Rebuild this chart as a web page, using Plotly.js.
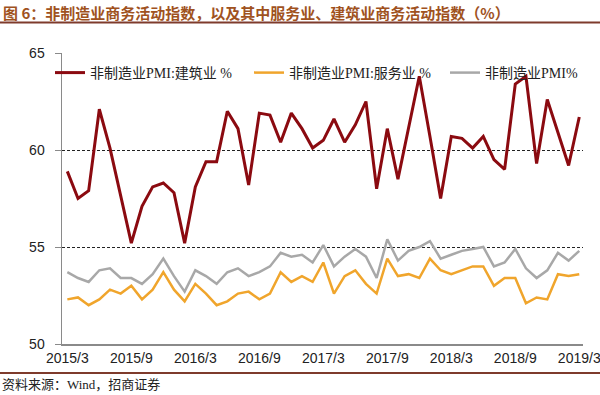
<!DOCTYPE html>
<html>
<head>
<meta charset="utf-8">
<script src="https://cdn.plot.ly/plotly-3.0.1.min.js"></script>
<style>html,body{margin:0;padding:0;background:#fff;}#chart{width:600px;height:395px;}</style>
</head>
<body>
<div id="chart"></div>
<script>
const months = ["2015/3","2015/4","2015/5","2015/6","2015/7","2015/8","2015/9","2015/10","2015/11","2015/12",
"2016/1","2016/2","2016/3","2016/4","2016/5","2016/6","2016/7","2016/8","2016/9","2016/10","2016/11","2016/12",
"2017/1","2017/2","2017/3","2017/4","2017/5","2017/6","2017/7","2017/8","2017/9","2017/10","2017/11","2017/12",
"2018/1","2018/2","2018/3","2018/4","2018/5","2018/6","2018/7","2018/8","2018/9","2018/10","2018/11","2018/12",
"2019/1","2019/2","2019/3"];
const construction = [58.9,57.5,57.9,62.1,60.1,57.6,55.2,57.1,58.1,58.3,
57.8,55.2,58.1,59.4,59.4,62.0,61.1,58.2,61.9,61.8,60.4,61.9,
61.1,60.1,60.5,61.6,60.4,61.3,62.5,58.0,61.1,58.5,61.2,63.8,
60.7,57.5,60.7,60.6,60.1,60.7,59.5,59.0,63.4,63.8,59.3,62.6,
60.9,59.2,61.7];
const services = [52.3,52.4,52.0,52.3,52.8,52.6,53.0,52.3,52.8,53.7,
52.8,52.2,53.1,52.6,52.0,52.2,52.6,52.7,52.3,52.6,53.7,53.2,
53.5,53.2,54.2,52.6,53.5,53.8,53.1,52.6,54.4,53.5,53.6,53.4,
54.4,53.8,53.6,53.8,54.0,54.0,53.0,53.4,53.4,52.1,52.4,52.3,
53.6,53.5,53.6];
const nonmfg = [53.7,53.4,53.2,53.8,53.9,53.4,53.4,53.1,53.6,54.4,
53.5,52.7,53.8,53.5,53.1,53.7,53.9,53.5,53.7,54.0,54.7,54.5,
54.6,54.2,55.1,54.0,54.5,54.9,54.5,53.4,55.4,54.3,54.8,55.0,
55.3,54.4,54.6,54.8,54.9,55.0,54.0,54.2,54.9,53.9,53.4,53.8,
54.7,54.3,54.8];
const xTicks = ["2015/3","2015/9","2016/3","2016/9","2017/3","2017/9","2018/3","2018/9","2019/3"];
const yTicks = [50,55,60,65];

const L = 62, R = 583, T = 53, B = 344;
const W = R - L, H = B - T;
const px = v => (v - L) / W;
const py = v => (B - v) / H;

const serif = "Liberation Serif, Noto Sans CJK SC, serif";
const traces = [
  {x: months, y: construction, name: "非制造业PMI:建筑业 %", type: "scatter", mode: "lines",
   line: {color: "#8B0A10", width: 3}, legend: "legend"},
  {x: months, y: services, name: "非制造业PMI:服务业 %", type: "scatter", mode: "lines",
   line: {color: "#F0A52C", width: 2.5}, legend: "legend2"},
  {x: months, y: nonmfg, name: "非制造业PMI%", type: "scatter", mode: "lines",
   line: {color: "#A8A8A8", width: 2.5}, legend: "legend3"}
];
const legBase = {orientation: "h", xanchor: "left", y: py(73), yanchor: "middle",
  font: {family: serif, size: 14, color: "#222"}, bgcolor: "rgba(0,0,0,0)"};
const layout = {
  width: 600, height: 395,
  margin: {l: L, r: 600 - R, t: T, b: 395 - B, pad: 0},
  paper_bgcolor: "#fff", plot_bgcolor: "#fff",
  showlegend: true,
  legend: Object.assign({}, legBase, {x: px(50)}),
  legend2: Object.assign({}, legBase, {x: px(249)}),
  legend3: Object.assign({}, legBase, {x: px(445)}),
  xaxis: {type: "category", range: [-0.5, 48.35], tickmode: "array", tickvals: xTicks, ticktext: xTicks,
    showgrid: false, zeroline: false, showline: true, linecolor: "#8a8a8a", linewidth: 2,
    ticks: "", tickfont: {family: "Liberation Sans, Arial, sans-serif", size: 14, color: "#222"}},
  yaxis: {range: [50, 65], tickmode: "array", tickvals: yTicks, showgrid: true,
    gridcolor: "#222", griddash: "3px,2px", gridwidth: 1, zeroline: false,
    showline: true, linecolor: "#8a8a8a", linewidth: 1.5, ticks: "outside", ticklen: 6, tickcolor: "#8a8a8a",
    ticklabelstandoff: 7,
    tickfont: {family: "Liberation Sans, Arial, sans-serif", size: 14, color: "#222"}},
  shapes: [
    {type: "line", xref: "paper", yref: "paper", x0: px(0), x1: px(600), y0: py(22.5), y1: py(22.5),
     line: {color: "#7E3B2C", width: 1.8}},
    {type: "line", xref: "paper", yref: "paper", x0: px(0), x1: px(600), y0: py(373), y1: py(373),
     line: {color: "#7E3B2C", width: 1.8}}
  ],
  annotations: [
    {xref: "paper", yref: "paper", x: px(1), y: py(12), xanchor: "left", yanchor: "middle", showarrow: false,
     text: "<b>图 6：非制造业商务活动指数，以及其中服务业、建筑业商务活动指数（%）</b>",
     font: {family: "Noto Sans CJK SC, sans-serif", size: 15, color: "#A0521E"}},
    {xref: "paper", yref: "paper", x: px(0), y: py(384), xanchor: "left", yanchor: "middle", showarrow: false,
     text: "资料来源：Wind，招商证券",
     font: {family: serif, size: 13, color: "#222"}}
  ]
};
Plotly.newPlot("chart", traces, layout, {displayModeBar: false, staticPlot: true});
</script>
</body>
</html>
